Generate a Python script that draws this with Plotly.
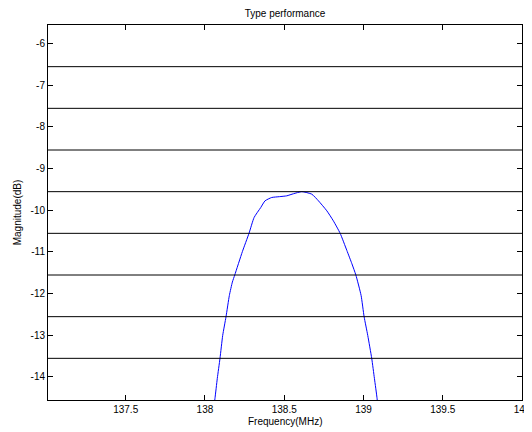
import plotly.graph_objects as go

# Data
freq_mhz = [138.055, 138.063, 138.078, 138.095, 138.112, 138.133, 138.154, 138.173,
            138.188, 138.236, 138.278, 138.310, 138.352, 138.379, 138.421, 138.470,
            138.516, 138.558, 138.611, 138.674, 138.716, 138.769, 138.810, 138.853,
            138.895, 138.927, 138.952, 138.985, 139.004, 139.027, 139.052, 139.069,
            139.086, 139.090]
magnitude_db = [-14.75, -14.53, -14.04, -13.56, -13.01, -12.56, -12.05, -11.73,
                -11.56, -11.0, -10.56, -10.18, -9.94, -9.78, -9.70, -9.68,
                -9.66, -9.61, -9.56, -9.62, -9.78, -10.02, -10.26, -10.56,
                -10.97, -11.29, -11.56, -12.05, -12.56, -13.01, -13.56, -14.04,
                -14.53, -14.75]
peak_db = -9.56
level_offsets_db = [3, 2, 1, 0, -1, -2, -3, -4]
x_ticks = [137.5, 138, 138.5, 139, 139.5, 140]
x_tick_labels = ["137.5", "138", "138.5", "139", "139.5", "140"]
y_ticks = [-6, -7, -8, -9, -10, -11, -12, -13, -14]
y_tick_labels = ["-6", "-7", "-8", "-9", "-10", "-11", "-12", "-13", "-14"]

fig = go.Figure()
fig.add_trace(go.Scatter(x=freq_mhz, y=magnitude_db, mode="lines",
                         line=dict(color="#0000ff", width=1, shape="spline", smoothing=0.5),
                         showlegend=False))

for off in level_offsets_db:
    fig.add_hline(y=peak_db + off, line=dict(color="black", width=1))

fam = "Liberation Sans, Arial, Helvetica, sans-serif"
font = dict(family=fam, size=10, color="black")

# The page body adds an 8px offset, so the figure is sized to fit the window.
W, H = 524, 424
T, B = 17, 32
plot_h = H - T - B
fig.update_layout(
    width=W, height=H,
    margin=dict(l=40, r=10, t=T, b=B),
    paper_bgcolor="white", plot_bgcolor="white",
    font=font,
    title=dict(text="Type performance", x=0.5, xanchor="center",
               xref="paper", y=1 - 5 / H, yref="container", yanchor="middle",
               font=dict(size=10, family=fam, color="black")),
    showlegend=False,
)
fig.add_annotation(text="Frequency(MHz)", xref="paper", yref="paper",
                   x=0.5, y=-21 / plot_h, xanchor="center", yanchor="middle",
                   showarrow=False, font=dict(size=10, family=fam, color="black"))
fig.update_xaxes(range=[137.01, 140], tickvals=x_ticks, ticktext=x_tick_labels,
                 showgrid=False, zeroline=False, showline=True, linecolor="black",
                 linewidth=1, mirror="ticks", ticks="inside", ticklen=5,
                 tickcolor="black", automargin=False, tickfont=dict(size=10, family=fam))
fig.update_yaxes(range=[peak_db - 5, peak_db + 4], tickvals=y_ticks, ticktext=y_tick_labels,
                 showgrid=False, zeroline=False, showline=True, linecolor="black",
                 linewidth=1, mirror="ticks", ticks="inside", ticklen=5,
                 tickcolor="black", automargin=False, tickfont=dict(size=10, family=fam),
                 title=dict(text="Magnitude(dB)", standoff=7,
                            font=dict(size=10, family=fam, color="black")))

fig.write_html("out.html")
